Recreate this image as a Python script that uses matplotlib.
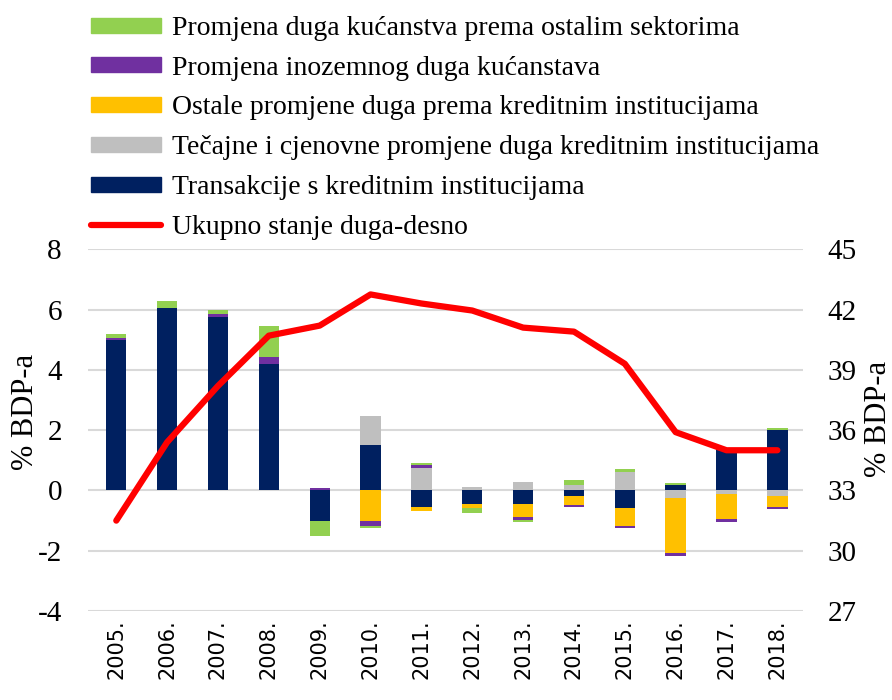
import numpy as np
import matplotlib.pyplot as plt
from matplotlib.patches import Patch
from matplotlib.lines import Line2D

plt.rcParams['font.family'] = ['Liberation Serif', 'DejaVu Serif']
plt.rcParams['axes.unicode_minus'] = False

# podaci (% BDP-a)
godine = ['2005.', '2006.', '2007.', '2008.', '2009.', '2010.', '2011.',
          '2012.', '2013.', '2014.', '2015.', '2016.', '2017.', '2018.']
transakcije = [5.0, 6.04, 5.76, 4.19, -1.0, 1.51, -0.55, -0.45, -0.45, -0.17, -0.57, 0.17, 1.42, 2.0]
tecajne = [0, 0, 0, 0, 0, 0.96, 0.76, 0.1, 0.27, 0.19, 0.62, -0.24, -0.11, -0.19]
ostale = [0, 0, 0, 0, 0, -1.0, -0.14, -0.14, -0.43, -0.31, -0.6, -1.85, -0.83, -0.36]
inozemni = [0.07, 0, 0.09, 0.22, 0.08, -0.17, 0.09, 0, -0.09, -0.08, -0.08, -0.08, -0.09, -0.08]
ostali_sektori = [0.13, 0.23, 0.13, 1.05, -0.52, -0.08, 0.07, -0.15, -0.08, 0.17, 0.08, 0.08, 0, 0.08]
ukupno = [31.5, 35.4, 38.2, 40.7, 41.2, 42.75, 42.3, 41.95, 41.1, 40.9, 39.3, 35.9, 35.0, 35.0]

serije = [
    (transakcije, '#002060', 'Transakcije s kreditnim institucijama'),
    (tecajne, '#BFBFBF', 'Tečajne i cjenovne promjene duga kreditnim institucijama'),
    (ostale, '#FFC000', 'Ostale promjene duga prema kreditnim institucijama'),
    (inozemni, '#7030A0', 'Promjena inozemnog duga kućanstava'),
    (ostali_sektori, '#92D050', 'Promjena duga kućanstva prema ostalim sektorima'),
]

fig = plt.figure(figsize=(8.92, 7), dpi=100)
ax = fig.add_axes([0.099, 0.127, 0.801, 0.517])
x = np.arange(len(godine))

pos = np.zeros(len(godine))
neg = np.zeros(len(godine))
for vals, boja, naziv in serije:
    v = np.array(vals, dtype=float)
    dno = np.where(v >= 0, pos, neg)
    ax.bar(x, v, width=0.4, bottom=dno, color=boja, zorder=2)
    pos = pos + np.where(v >= 0, v, 0)
    neg = neg + np.where(v < 0, v, 0)

ax.set_xlim(-0.55, 13.5)
ax.set_ylim(-4, 8)
ax.set_yticks(range(-4, 9, 2))
ax.grid(axis='y', color='#d9d9d9', linewidth=1.5, zorder=0)
ax.set_axisbelow(True)
for s in ax.spines.values():
    s.set_visible(False)
ax.tick_params(length=0)
ax.tick_params(axis='y', labelsize=21, pad=19)
ax.set_xticks(x)
ax.set_xticklabels(godine, rotation=90, fontsize=15, family='DejaVu Sans')
ax.tick_params(axis='x', pad=6)
ax.set_ylabel('% BDP-a', fontsize=22)
ax.yaxis.set_label_coords(-0.068, 0.55)

ax2 = ax.twinx()
ax2.plot(x, ukupno, color='#FF0000', linewidth=4.5, solid_capstyle='round',
         solid_joinstyle='round', zorder=5)
ax2.set_ylim(27, 45)
ax2.set_yticks(range(27, 46, 3))
for s in ax2.spines.values():
    s.set_visible(False)
ax2.tick_params(length=0, labelsize=21, pad=18)
ax2.set_ylabel('% BDP-a', fontsize=22, labelpad=2)
ax2.yaxis.set_label_coords(1.085, 0.53)

# legenda
handles = [Patch(color=b, label=n) for _, b, n in serije[::-1]]
handles.append(Line2D([0], [0], color='#FF0000', linewidth=4.5,
                      solid_capstyle='round', label='Ukupno stanje duga-desno'))
fig.legend(handles=handles, loc='upper left', bbox_to_anchor=(0.096, 0.985),
           frameon=False, fontsize=20, handlelength=2.5, handleheight=0.45,
           handletextpad=0.4, labelspacing=0.53, borderpad=0.2,
           borderaxespad=0)

plt.savefig('out.png', dpi=100)
